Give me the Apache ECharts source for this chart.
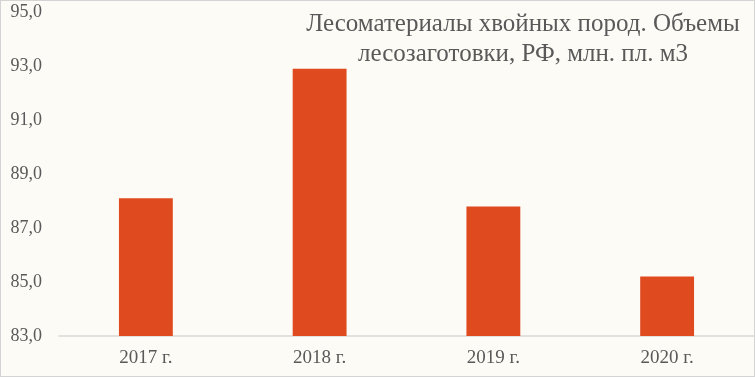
<!DOCTYPE html>
<html><head><meta charset="utf-8">
<script src="https://cdn.jsdelivr.net/npm/echarts@6/dist/echarts.min.js"></script>
<style>
html,body{margin:0;padding:0;background:#fff;}
#c{width:755px;height:377px;box-sizing:border-box;border:1px solid #d4d4d4;background:#fcfbf6;}
</style></head><body>
<div id="c"></div>
<script>
const categories = ['2017 г.', '2018 г.', '2019 г.', '2020 г.'];
const values = [88.1, 92.9, 87.8, 85.2];
const titleLines = ['Лесоматериалы хвойных пород. Объемы', 'лесозаготовки, РФ, млн. пл. м3'];

const chart = echarts.init(document.getElementById('c'));
const font = '"Liberation Serif", "DejaVu Serif", serif';
chart.setOption({
  animation: false,
  textStyle: {fontFamily: font},
  title: {
    text: titleLines.join('\n'),
    left: 517, top: 3, textAlign: 'center',
    textStyle: {fontFamily: font, fontSize: 25, fontWeight: 'normal', color: '#595959', lineHeight: 30}
  },
  grid: {left: 58, right: 0, top: 11, bottom: 40, containLabel: false},
  xAxis: {
    type: 'category', data: categories,
    axisLine: {lineStyle: {color: '#d9d9d9', width: 1.5}},
    axisTick: {show: false},
    axisLabel: {color: '#595959', fontSize: 19, fontFamily: font, margin: 13}
  },
  yAxis: {
    type: 'value', min: 83, max: 95, interval: 2,
    splitLine: {show: false},
    axisLine: {show: false}, axisTick: {show: false},
    axisLabel: {color: '#595959', fontSize: 18, fontFamily: font, margin: 17,
      formatter: v => v.toFixed(1).replace('.', ',')}
  },
  series: [{
    type: 'bar', data: values, barWidth: '31%',
    itemStyle: {color: '#e04a1f'}
  }]
});
</script></body></html>
